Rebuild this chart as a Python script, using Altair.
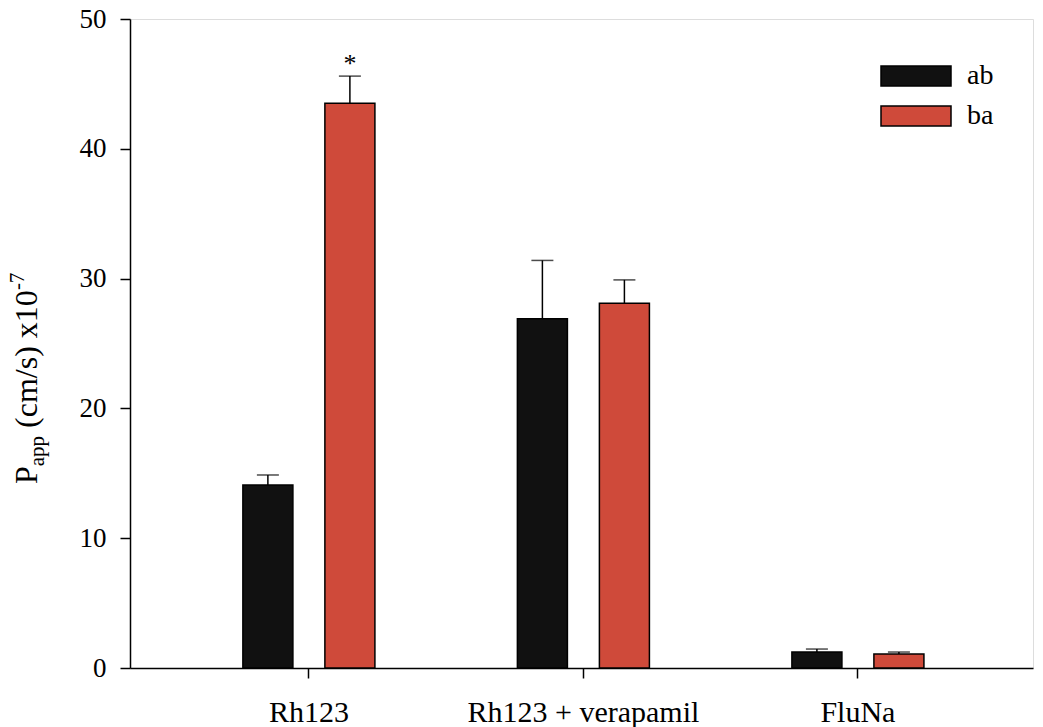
import altair as alt
import pandas as pd

categories = ["Rh123", "Rh123 + verapamil", "FluNa"]
directions = ["ab", "ba"]
ab_values = [14.1, 26.9, 1.23]
ab_errors = [0.77, 4.5, 0.23]
ba_values = [43.5, 28.1, 1.08]
ba_errors = [2.1, 1.8, 0.15]
star_category = "Rh123"
star_direction = "ba"
star_value = 45.9
y_ticks = [0, 10, 20, 30, 40, 50]

rows = []
for c, v, e in zip(categories, ab_values, ab_errors):
    rows.append({"cat": c, "dir": "ab", "val": v, "hi": v + e})
for c, v, e in zip(categories, ba_values, ba_errors):
    rows.append({"cat": c, "dir": "ba", "val": v, "hi": v + e})
df = pd.DataFrame(rows)
star_df = pd.DataFrame([{"cat": star_category, "dir": star_direction, "val": star_value, "label": "*"}])

FONT = "Liberation Serif"
PLOT_W, PLOT_H = 903, 649
LEFT, TOP = 130, 19

x = alt.X(
    "cat:N", sort=categories,
    scale=alt.Scale(paddingInner=0.4025, paddingOuter=0.346, align=0.51),
    axis=alt.Axis(title=None, labelAngle=0, labelFont=FONT, labelFontSize=30,
                  labelColor="black", tickColor="black", domainColor="black",
                  tickSize=10, tickWidth=1.5, domainWidth=1.5, labelPadding=19,
                  labelLimit=0),
)
xoff = alt.XOffset("dir:N", sort=directions,
                   scale=alt.Scale(paddingInner=0.39, paddingOuter=0.195))
y_scale = alt.Scale(domain=[0, 50], nice=False)

bars = alt.Chart(df).mark_bar(stroke="black", strokeWidth=1.5).encode(
    x=x,
    xOffset=xoff,
    y=alt.Y("val:Q", scale=y_scale,
            axis=alt.Axis(title=None, values=y_ticks, grid=False,
                          labelFont=FONT, labelFontSize=27, labelColor="black",
                          tickColor="black", domainColor="black", tickSize=10,
                          tickWidth=1.5, domainWidth=1.5, labelPadding=14)),
    color=alt.Color("dir:N", scale=alt.Scale(domain=directions, range=["#111111", "#cf4a3a"]),
                    legend=alt.Legend(title=None, orient="none", legendX=772, legendY=43,
                                      symbolType="M-3.5,-1L3.5,-1L3.5,1L-3.5,1Z",
                                      symbolSize=400, symbolStrokeColor="black",
                                      symbolStrokeWidth=1.5, symbolOpacity=1,
                                      labelFont=FONT, labelFontSize=28, labelColor="black",
                                      labelOffset=37, rowPadding=12)),
)

err = alt.Chart(df).mark_rule(color="black", strokeWidth=1.5).encode(
    x=x, xOffset=xoff, y=alt.Y("val:Q", scale=y_scale), y2="hi:Q",
)
caps = alt.Chart(df).mark_tick(color="black", thickness=1.5, size=22, orient="horizontal").encode(
    x=x, xOffset=xoff, y=alt.Y("hi:Q", scale=y_scale),
)
star = alt.Chart(star_df).mark_text(font=FONT, fontSize=26, color="black", baseline="alphabetic").encode(
    x=x, xOffset=xoff, y=alt.Y("val:Q", scale=y_scale), text="label:N",
)

# y-axis title built from pieces so that subscript and superscript render properly
title_main = 32
title_small = 21
base_x = 37 - LEFT
start_y = 484 - TOP
pieces = [
    ("P", title_main, 0, 0.556 * title_main),
    ("app", title_small, 7, 1.444 * title_small + 0.25 * title_main),
    ("(cm/s) x10", title_main, 0, 4.305 * title_main),
    ("-7", title_small, -13, 0.833 * title_small),
]
title_layers = []
pos = start_y
for txt, size, dx, adv in pieces:
    title_layers.append(
        alt.Chart(star_df).mark_text(font=FONT, fontSize=size, color="black", angle=270,
                                     align="left", baseline="alphabetic", text=txt).encode(
            x=alt.value(base_x + dx), y=alt.value(pos)
        )
    )
    pos -= adv

chart = alt.layer(bars, err, caps, star, *title_layers).properties(
    width=PLOT_W, height=PLOT_H,
    autosize=alt.AutoSizeParams(type="none"),
    padding={"left": LEFT, "top": TOP, "right": 10, "bottom": 59},
).configure_view(stroke="black", strokeWidth=1.5).configure(background="white")

chart.save("out.html", embed_options={"renderer": "svg", "actions": False})
